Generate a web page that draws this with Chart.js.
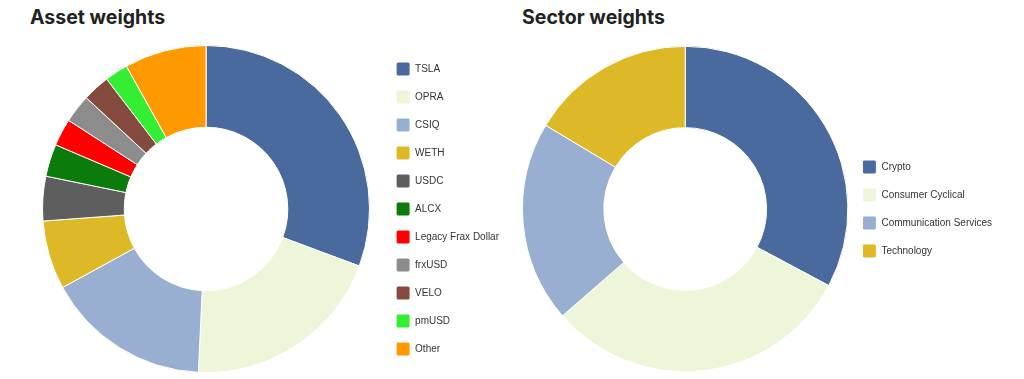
<!DOCTYPE html>
<html>
<head>
<meta charset="utf-8">
<script src="https://cdn.jsdelivr.net/npm/chart.js@4"></script>
<style>
  body { margin: 0; background: #fff; width: 1024px; height: 379px; overflow: hidden; }
  h2 { position: absolute; margin: 0; font-family: Inter, sans-serif; font-weight: 700; font-size: 19.5px; color: #222; top: 5px; }
  .box { position: absolute; top: 40px; height: 338px; }
</style>
</head>
<body>
<h2 style="left:30px">Asset weights</h2>
<h2 style="left:522px">Sector weights</h2>
<div class="box" style="left:25px;width:489px"><canvas id="assetChart"></canvas></div>
<div class="box" style="left:517px;width:490px"><canvas id="sectorChart"></canvas></div>
<script>
const assetLabels = ["TSLA", "OPRA", "CSIQ", "WETH", "USDC", "ALCX", "Legacy Frax Dollar", "frxUSD", "VELO", "pmUSD", "Other"];
const assetValues = [30.7, 20.1, 16.3, 6.8, 4.4, 3.2, 2.7, 2.8, 2.7, 2.3, 8.1];
const assetColors = ["#4a6a9e", "#edf6d8", "#98afd2", "#ddb928", "#5e5e5e", "#0b7b0b", "#ff0000", "#8c8c8c", "#834a3d", "#33ee33", "#ff9900"];

const sectorLabels = ["Crypto", "Consumer Cyclical", "Communication Services", "Technology"];
const sectorValues = [32.8, 30.8, 20.0, 16.4];
const sectorColors = ["#4a6a9e", "#edf6d8", "#98afd2", "#ddb928"];

function makeDoughnut(id, labels, values, colors) {
  new Chart(document.getElementById(id), {
    type: "doughnut",
    data: {
      labels: labels,
      datasets: [{
        data: values,
        backgroundColor: colors,
        borderColor: "#fff",
        borderWidth: 1,
      }],
    },
    options: {
      responsive: true,
      maintainAspectRatio: false,
      animation: false,
      cutout: "50%",
      layout: { padding: 5 },
      plugins: {
        legend: {
          position: "right",
          labels: {
            boxWidth: 14,
            boxHeight: 14,
            padding: 14,
            useBorderRadius: true,
            borderRadius: 2,
            color: "#333",
            font: { family: "'Liberation Sans', Arial, sans-serif", size: 10 },
          },
        },
        tooltip: { enabled: false },
      },
    },
  });
}

makeDoughnut("assetChart", assetLabels, assetValues, assetColors);
makeDoughnut("sectorChart", sectorLabels, sectorValues, sectorColors);
</script>
</body>
</html>
